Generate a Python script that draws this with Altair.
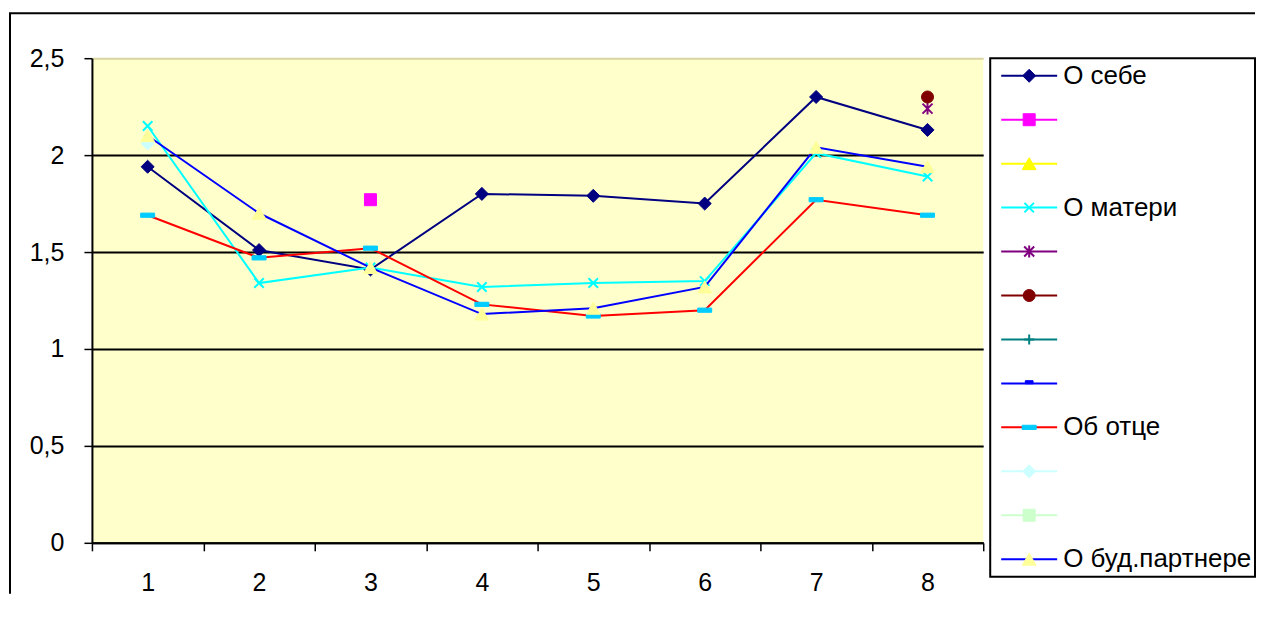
import altair as alt
import pandas as pd

# ---------------- data ----------------
categories = [1, 2, 3, 4, 5, 6, 7, 8]
series_names = ["О себе", "", "", "О матери", "", "", "", "", "Об отце", "", "", "О буд.партнере"]

s01_o_sebe = [1.94, 1.51, 1.41, 1.80, 1.79, 1.75, 2.30, 2.13]
s02 = [None, None, 1.77, None, None, None, None, None]
s03 = [None, None, None, None, None, None, None, None]
s04_o_materi = [2.15, 1.34, 1.42, 1.32, 1.34, 1.35, 2.01, 1.89]
s05 = [None, None, None, None, None, None, None, 2.24]
s06 = [None, None, None, None, None, None, None, 2.30]
s07 = [None, None, None, None, None, None, None, None]
s08 = [None, None, None, None, None, None, None, None]
s09_ob_otce = [1.69, 1.47, 1.52, 1.23, 1.17, 1.20, 1.77, 1.69]
s10 = [2.06, None, None, None, None, None, None, None]
s11 = [None, None, None, None, None, None, None, None]
s12_o_partnere = [2.10, 1.70, 1.42, 1.18, 1.21, 1.32, 2.04, 1.94]

series_values = [s01_o_sebe, s02, s03, s04_o_materi, s05, s06, s07, s08,
                 s09_ob_otce, s10, s11, s12_o_partnere]

y_ticks = [0, 0.5, 1, 1.5, 2, 2.5]
x_ticks = [0.5, 1, 1.5, 2, 2.5, 3, 3.5, 4, 4.5, 5, 5.5, 6, 6.5, 7, 7.5, 8, 8.5]

# ---------------- styles ----------------
line_colors = ["#000080", "#FF00FF", "#FFFF00", "#00FFFF", "#800080", "#800000",
               "#008080", "#0000FF", "#FF0000", "#CCFFFF", "#CCFFCC", "#0000FF"]
marker_fill = ["#000080", "#FF00FF", "#FFFF00", "transparent", "transparent", "#800000",
               "transparent", "#0000FF", "#00CCFF", "#CCFFFF", "#CCFFCC", "#FFFF99"]
marker_stroke = ["#000080", "#FF00FF", "#FFFF00", "#00FFFF", "#800080", "#800000",
                 "#008080", "#0000FF", "#00CCFF", "#CCFFFF", "#CCFFCC", "#FFFF99"]
XPATH = "M-1,-1L1,1M-1,1L1,-1"
STAR = "M-1,-1L1,1M-1,1L1,-1M0,-1.2L0,1.2"
PLUS = "M-1,0L1,0M0,-1L0,1"
SMALLDASH = "M-1,-0.7H1V0.1H-1Z"
DASH = "M-1,-0.3H1V0.3H-1Z"
marker_shape = ["diamond", "square", "triangle-up", XPATH, STAR, "circle",
                PLUS, SMALLDASH, DASH, "diamond", "square", "triangle-up"]
marker_size = [170, 144, 190, 90, 100, 144, 100, 60, 196, 170, 144, 190]
marker_sw = [1, 1, 1, 2, 2, 1, 2, 1, 1, 1, 1, 1]

FONT = "Arial, Liberation Sans, sans-serif"
W, H = 892, 485
LW, LH = 265, 519

xscale = alt.Scale(domain=[0.5, 8.5], nice=False, zero=False)
yscale = alt.Scale(domain=[0, 2.5], nice=False, zero=True)

xaxis = alt.Axis(
    values=x_ticks, title=None, grid=False,
    domainColor="black", domainWidth=2,
    tickColor={"condition": {"test": "datum.value % 1 === 0", "value": "transparent"},
               "value": "black"},
    tickSize=8, tickWidth=1.5,
    labelExpr="datum.value % 1 === 0 ? format(datum.value, 'd') : ''",
    labelFont=FONT, labelFontSize=25, labelColor="black", labelPadding=20,
    labelOverlap=False, labelFlush=False, labelBound=False,
)
yaxis = alt.Axis(
    values=y_ticks, title=None, grid=True,
    gridColor={"condition": {"test": "datum.value >= 2.4", "value": "#d8d5a2"},
               "value": "black"},
    gridWidth=2,
    domainColor="black", domainWidth=2,
    tickColor="black", tickSize=8, tickWidth=1.5,
    labelExpr="replace(format(datum.value, '~g'), '.', ',')",
    labelFont=FONT, labelFontSize=25, labelColor="black", labelPadding=20,
    labelOverlap=False, labelFlush=False, labelBound=False,
)

X = alt.X("x:Q", scale=xscale, axis=xaxis)
Y = alt.Y("y:Q", scale=yscale, axis=yaxis)

layers = []
for i, vals in enumerate(series_values):
    df = pd.DataFrame({"x": categories, "y": vals}).dropna()
    if len(df) == 0:
        continue
    if len(df) >= 2:
        layers.append(
            alt.Chart(df).mark_line(color=line_colors[i], strokeWidth=2).encode(x=X, y=Y)
        )
    filled = marker_fill[i] != "transparent"
    pt_kwargs = dict(shape=marker_shape[i], size=marker_size[i], opacity=1,
                     stroke=marker_stroke[i], strokeWidth=marker_sw[i], filled=filled)
    if filled:
        pt_kwargs["fill"] = marker_fill[i]
    layers.append(alt.Chart(df).mark_point(**pt_kwargs).encode(x=X, y=Y))

# outer chart frame (left and top edges)
frame_df = pd.DataFrame({"x": [1], "y": [1]})
frame_left = alt.Chart(frame_df).mark_rule(color="black", strokeWidth=2).encode(
    x=alt.value(-82), y=alt.value(-45), y2=alt.value(536))
frame_top = alt.Chart(frame_df).mark_rule(color="black", strokeWidth=2).encode(
    x=alt.value(-83), x2=alt.value(1164), y=alt.value(-45))

main = alt.layer(*layers, frame_left, frame_top).properties(
    width=W, height=H,
    view=alt.ViewBackground(fill="#FFFFCC", stroke=None),
)

# ---------------- legend ----------------
ids = [f"s{i:02d}" for i in range(len(series_names))]
leg_df = pd.DataFrame({"sid": ids, "name": series_names})
legy = alt.Y("sid:O", scale=alt.Scale(type="point", domain=ids, padding=0.4), axis=None)

leg_layers = [
    alt.Chart(leg_df).mark_rule(strokeWidth=2).encode(
        y=legy, x=alt.value(11), x2=alt.value(67),
        color=alt.Color("sid:N", scale=alt.Scale(domain=ids, range=line_colors), legend=None),
    )
]
for i, sid in enumerate(ids):
    filled = marker_fill[i] != "transparent"
    pt_kwargs = dict(shape=marker_shape[i], size=marker_size[i], opacity=1,
                     stroke=marker_stroke[i], strokeWidth=marker_sw[i], filled=filled)
    if filled:
        pt_kwargs["fill"] = marker_fill[i]
    leg_layers.append(
        alt.Chart(leg_df).transform_filter(alt.datum.sid == sid)
        .mark_point(**pt_kwargs).encode(y=legy, x=alt.value(39))
    )
leg_layers.append(
    alt.Chart(leg_df).mark_text(align="left", baseline="middle", font=FONT,
                                fontSize=26, color="black").encode(
        y=legy, x=alt.value(73), text="name:N")
)
legend = alt.layer(*leg_layers).properties(
    width=LW, height=LH,
    view=alt.ViewBackground(fill="white", stroke="black", strokeWidth=2),
)

chart = alt.hconcat(main, legend, spacing=7, bounds="flush").properties(
    padding={"left": 0, "top": 4, "right": 0, "bottom": 0},
    background="white",
).configure_view(strokeWidth=0)

chart.save("out.html", embed_options={"renderer": "svg", "actions": False})
